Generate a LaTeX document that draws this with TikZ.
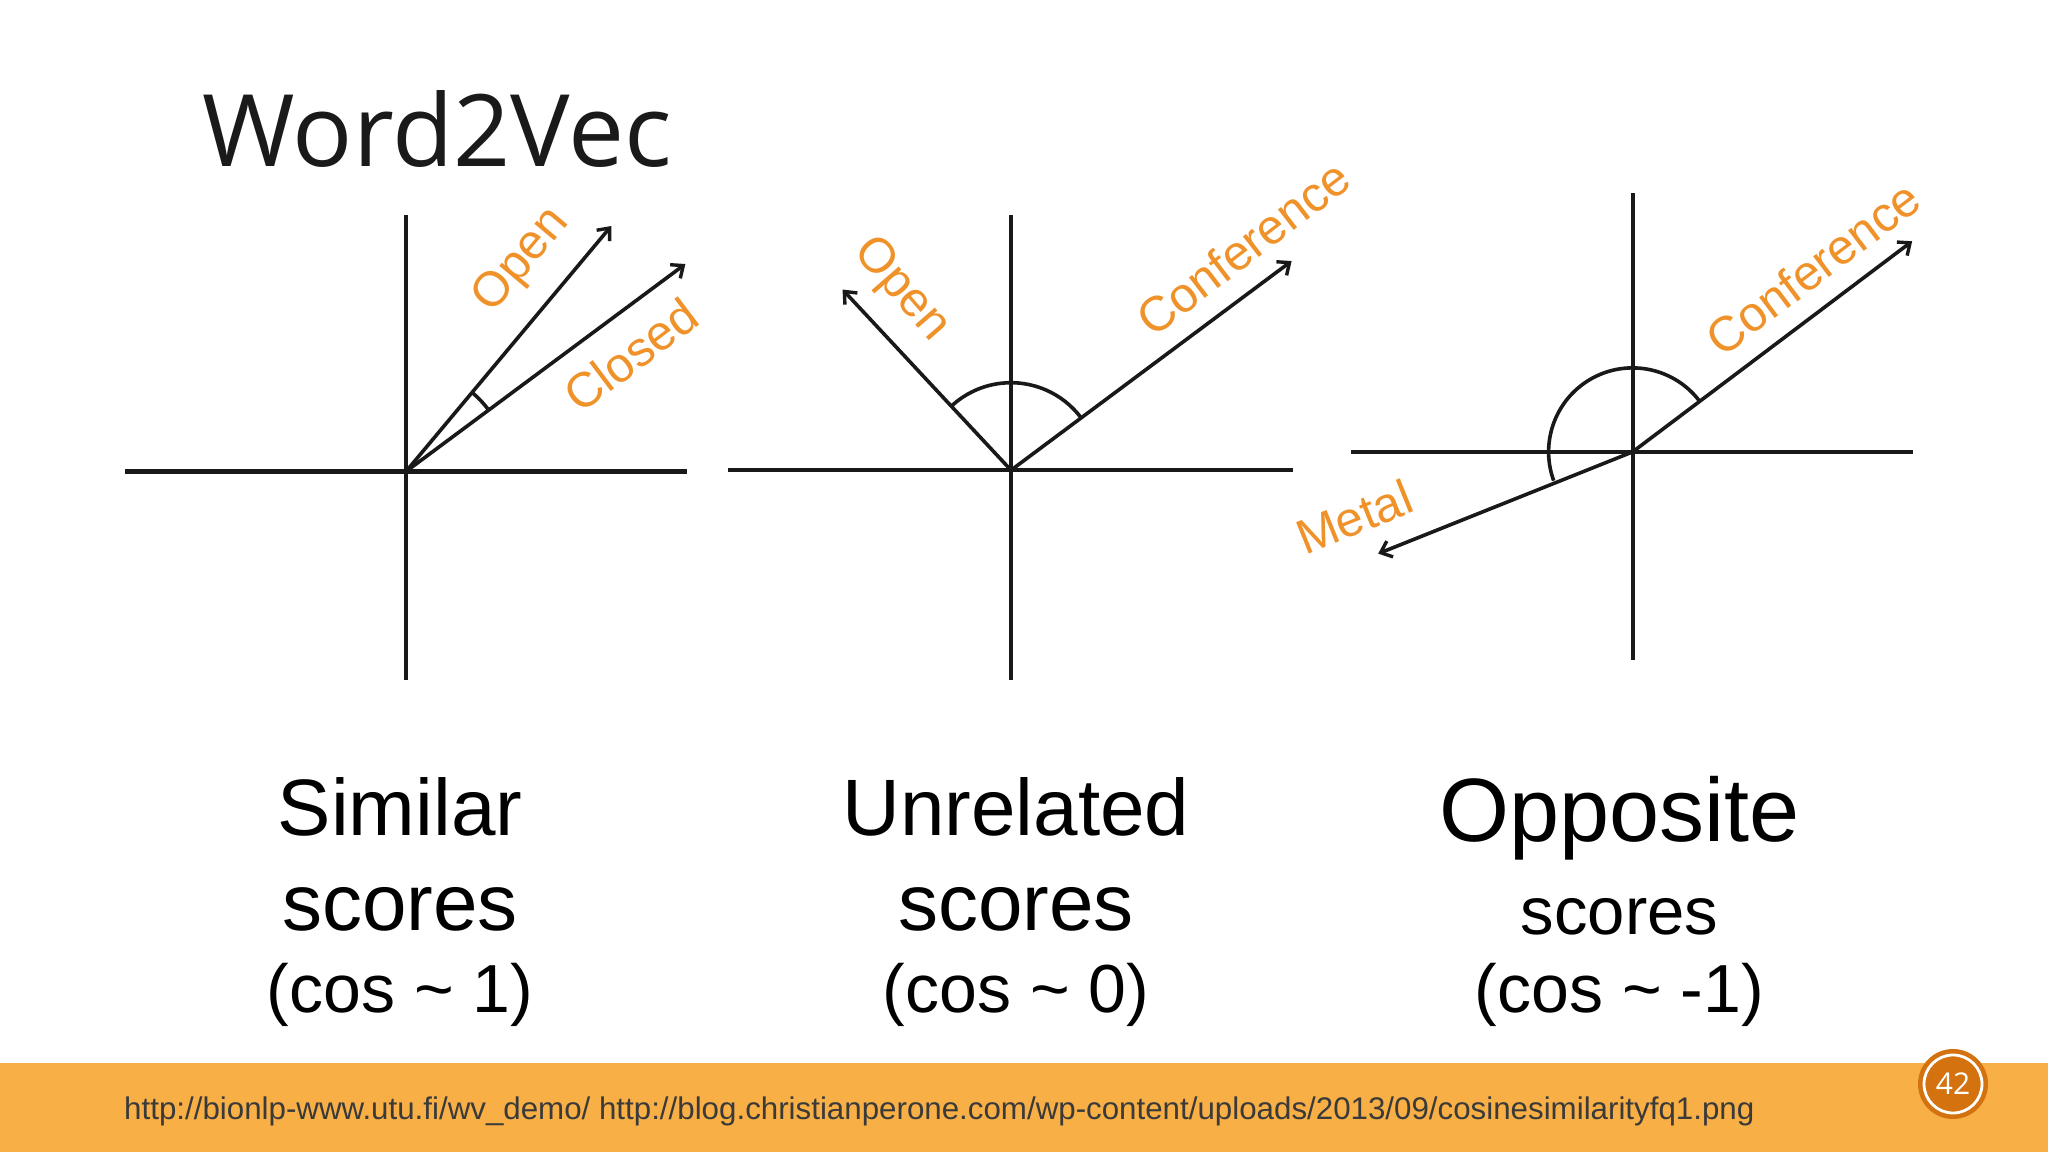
\documentclass[tikz,border=0pt]{standalone}
\usepackage{fontspec}
\setmainfont{Liberation Sans}
\newfontfamily\titlefont{Open Sans}
\usetikzlibrary{arrows.meta}
\definecolor{lbl}{HTML}{F0922A}
\definecolor{bar}{HTML}{F8AF45}
\definecolor{pgdark}{HTML}{D4720F}
\definecolor{foot}{HTML}{3A3A3A}
\definecolor{ttl}{HTML}{1A1A1A}
\tikzset{
  axis/.style={line width=4.2pt, black!90},
  vec/.style={line width=3.6pt, black!90, -{Straight Barb[length=10pt,width=17pt,line width=3.4pt]}},
  ang/.style={line width=3.6pt, black!90},
  wlabel/.style={text=lbl, font=\fontsize{49}{54}\selectfont, inner sep=0pt},
  big/.style={font=\fontsize{80}{90}\selectfont, anchor=base, inner sep=0pt},
  cosl/.style={font=\fontsize{68}{76}\selectfont, anchor=base, inner sep=0pt},
}
\begin{document}
\begin{tikzpicture}[x=1pt,y=1pt]
\useasboundingbox (0,0) rectangle (2048,1152);
\fill[white] (0,0) rectangle (2048,1152);
% footer bar
\fill[bar] (0,0) rectangle (2048,89);
\node[anchor=base west, inner sep=0pt, text=foot, font=\fontsize{31.3}{36}\selectfont] (src) at (124,33)
  {http://bionlp-www.utu.fi/wv\_demo/ http://blog.christianperone.com/wp-content/uploads/2013/09/cosinesimilarityfq1.png};
% page number
\fill[pgdark] (1953,68) circle[radius=35];
\draw[white, line width=2.8pt] (1953,68) circle[radius=29];
\node[text=white, font=\titlefont\fontsize{30}{34}\selectfont, inner sep=0pt] (pg) at (1953,68) {42};
% title
\node[anchor=base west, inner sep=0pt, text=ttl, font=\titlefont\fontsize{100}{112}\selectfont] (title) at (202,985) {Word2Vec};

% ---------- panel 1 ----------
\coordinate (o1) at (406,680.5);
\coordinate (h1l) at (125,680.5);
\coordinate (h1r) at (687,680.5);
\coordinate (v1t) at (406,936.5);
\coordinate (v1b) at (406,471.5);
\draw[axis] (h1l) -- (h1r);
\draw[axis] (v1t) -- (v1b);
\path (o1) ++(50.1:320) coordinate (t1open);
\path (o1) ++(36.6:348) coordinate (t1closed);
\draw[vec] (o1) -- (t1open);
\draw[vec] (o1) -- (t1closed);
\draw[ang] ([shift={(36.6:103)}]o1) arc[start angle=36.6, end angle=50.1, radius=103];
\node[wlabel, rotate=50] (l1open) at (522,891) {Open};
\node[wlabel, rotate=37] (l1closed) at (631,797) {Closed};

% ---------- panel 2 ----------
\coordinate (o2) at (1011,681.8);
\coordinate (h2l) at (727.5,681.8);
\coordinate (h2r) at (1293,681.8);
\coordinate (v2t) at (1011,936.5);
\coordinate (v2b) at (1011,471.5);
\draw[axis] (h2l) -- (h2r);
\draw[axis] (v2t) -- (v2b);
\path (o2) ++(133:247) coordinate (t2open);
\path (o2) ++(36.7:350) coordinate (t2conf);
\draw[vec] (o2) -- (t2open);
\draw[vec] (o2) -- (t2conf);
\draw[ang] ([shift={(36.7:87.5)}]o2) arc[start angle=36.7, end angle=133, radius=87.5];
\node[wlabel, rotate=-49] (l2open) at (901,862) {Open};
\node[wlabel, rotate=37.5] (l2conf) at (1243,904) {Conference};

% ---------- panel 3 ----------
\coordinate (o3) at (1632.6,700.1);
\coordinate (h3l) at (1350.5,700.1);
\coordinate (h3r) at (1913.4,700.1);
\coordinate (v3t) at (1632.6,958.7);
\coordinate (v3b) at (1632.6,492.4);
\draw[axis] (h3l) -- (h3r);
\draw[axis] (v3t) -- (v3b);
\path (o3) ++(37:350) coordinate (t3conf);
\path (o3) ++(201.8:274) coordinate (t3metal);
\draw[vec] (o3) -- (t3conf);
\draw[vec] (o3) -- (t3metal);
\draw[ang] ([shift={(37:84)}]o3) arc[start angle=37, end angle=200, radius=84];
\node[wlabel, rotate=37] (l3conf) at (1813,884) {Conference};
\node[wlabel, rotate=22] (l3metal) at (1354,635) {Metal};

% ---------- captions ----------
\node[big] (c1a) at (400,316) {Similar};
\node[big] (c1b) at (400,222) {scores};
\node[cosl] (c1c) at (400,140) {(cos \char`\~{} 1)};
\node[big] (c2a) at (1016,316) {Unrelated};
\node[big] (c2b) at (1016,222) {scores};
\node[cosl] (c2c) at (1016,140) {(cos \char`\~{} 0)};
\node[big, font=\fontsize{90}{100}\selectfont] (c3a) at (1619.5,310) {Opposite};
\node[big, font=\fontsize{67}{76}\selectfont] (c3b) at (1619.5,218) {scores};
\node[cosl] (c3c) at (1619.5,140) {(cos \char`\~{} -1)};
\end{tikzpicture}
\end{document}
